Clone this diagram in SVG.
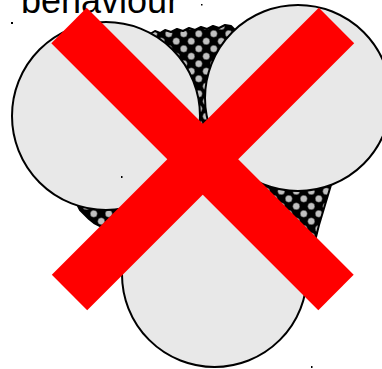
<svg xmlns="http://www.w3.org/2000/svg" width="382" height="369" viewBox="0 0 382 369">
  <style>
    .particle { fill: #e8e8e8; stroke: #000; stroke-width: 2; }
    .grains { fill: url(#grainPattern); stroke: #000; stroke-width: 2; stroke-linejoin: round; }
    .bar { stroke: #ff0000; stroke-width: 50; stroke-linecap: butt; fill: none; }
    .label { font-family: "Liberation Sans", Arial, sans-serif; font-size: 36px; fill: #000; }
    .speck { fill: #000; }
  </style>
  <defs>
    <pattern id="grainPattern" patternUnits="userSpaceOnUse" width="15" height="15">
      <rect width="15" height="15" fill="#000"/>
      <circle cx="3.75" cy="3.75" r="3.5" fill="#c0c0c0" stroke="#333" stroke-width="0.5"/>
      <circle cx="11.25" cy="11.25" r="3.5" fill="#c0c0c0" stroke="#333" stroke-width="0.5"/>
    </pattern>
  </defs>
  <rect width="382" height="369" fill="#fff"/>

  <g id="title">
    <text class="label" x="21" y="13">behaviour</text>
  </g>

  <g id="fine-grains">
    <polygon class="grains" points="150,34 155,31 160,33 165,30 171,32 177,29 183,31 189,28 195,30 201,27 207,29 213,26 219,28 225,25 231,26 235,30 262,100 300,150 331,185 328,195 325,205 322,215 319,225 316,237 310,250 250,230 150,230 100,226 94,223 89,219 84,214 80,210 78,206 150,150"/>
  </g>

  <g id="particles">
    <circle id="particle-left" class="particle" cx="106" cy="116" r="94"/>
    <circle id="particle-right" class="particle" cx="298" cy="98" r="93"/>
    <circle id="particle-bottom" class="particle" cx="214.5" cy="274.5" r="92.5"/>
  </g>

  <g id="cross">
    <line class="bar" x1="69" y1="25.5" x2="336" y2="292.5"/>
    <line class="bar" x1="336.5" y1="25.5" x2="69.5" y2="292.5"/>
  </g>

  <g id="specks">
    <rect class="speck" x="11" y="22" width="2" height="2"/>
    <rect class="speck" x="201" y="4" width="1.5" height="1.5"/>
    <rect class="speck" x="121" y="176" width="1.5" height="2"/>
    <rect class="speck" x="311" y="366" width="1.5" height="2"/>
  </g>
</svg>
